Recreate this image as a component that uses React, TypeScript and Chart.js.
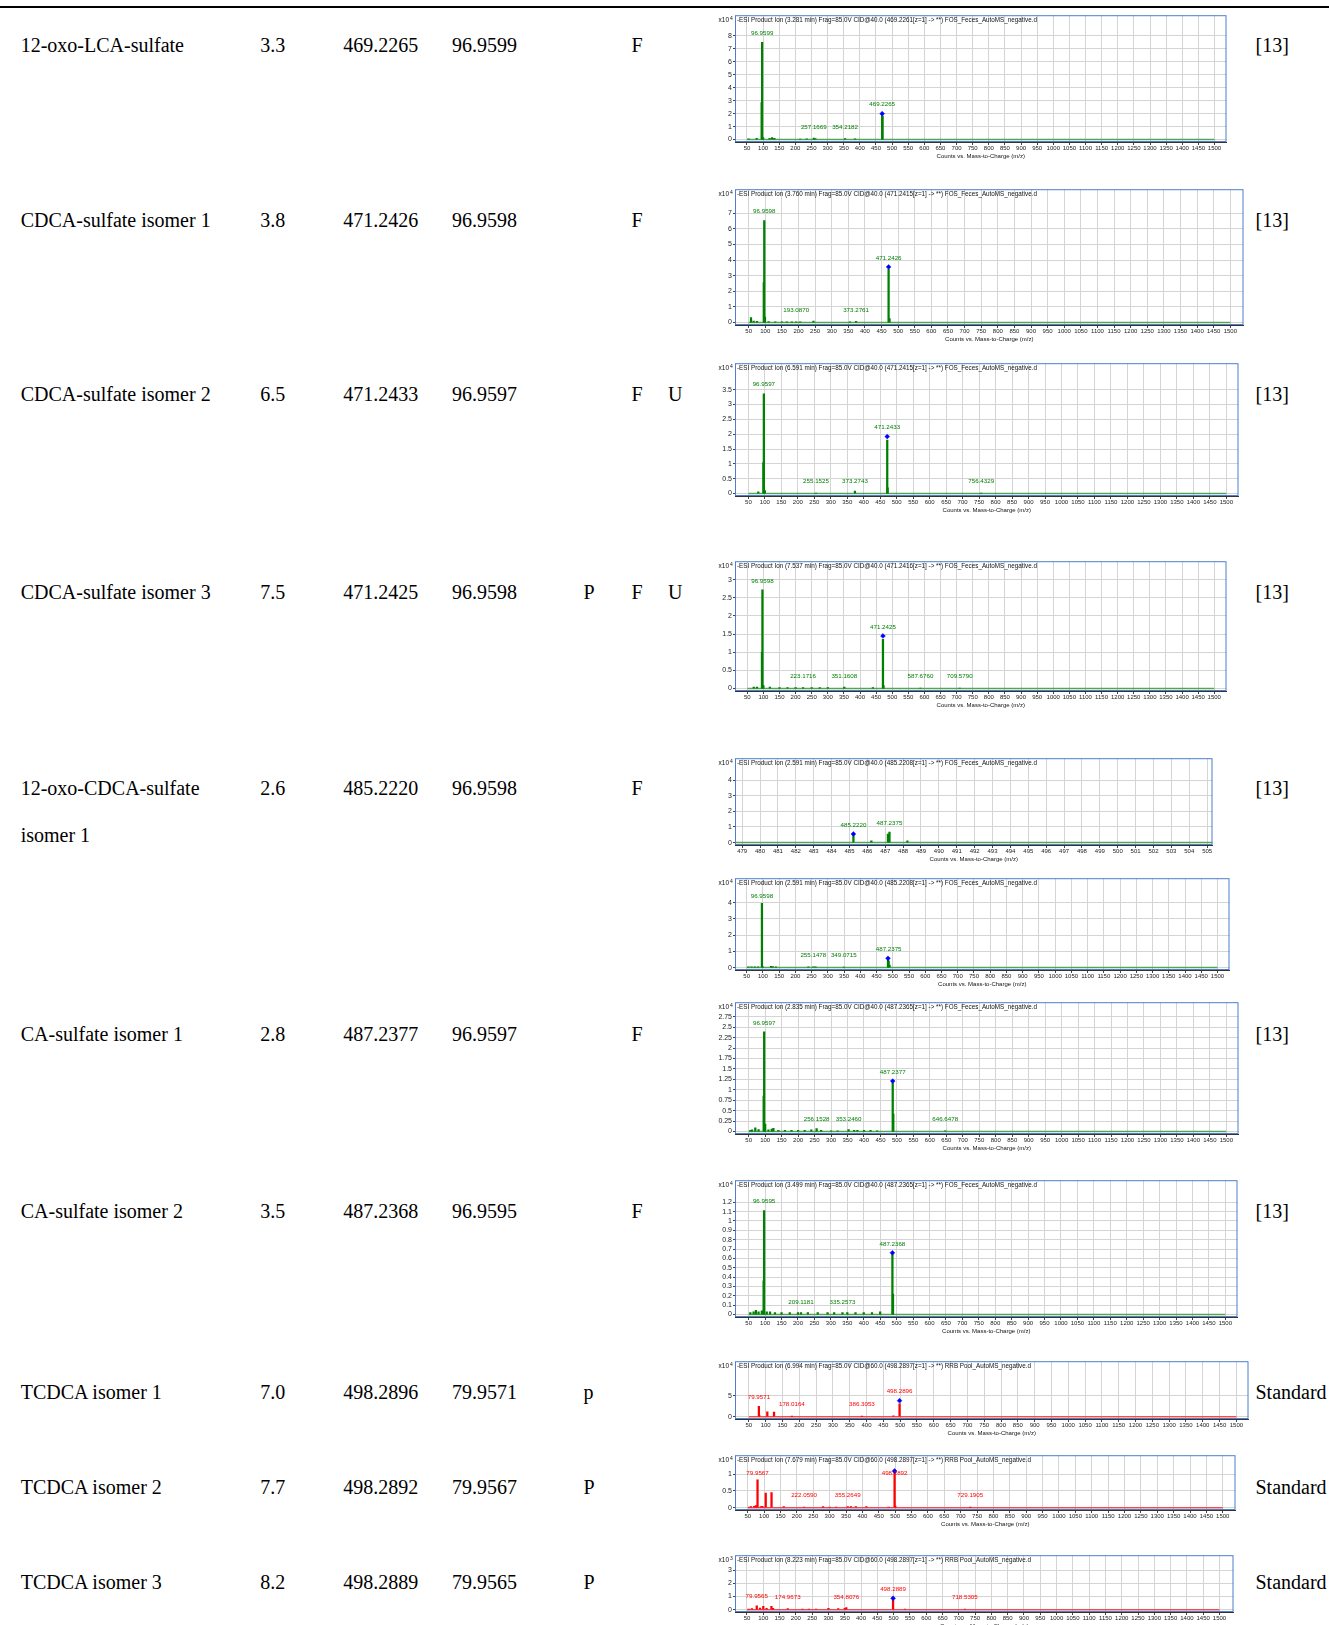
import React, { useEffect, useRef } from 'react';
import { Chart, registerables } from 'chart.js';

Chart.register(...registerables);

// ---------------- table data ----------------
const compoundNames = [
  '12-oxo-LCA-sulfate',
  'CDCA-sulfate isomer 1',
  'CDCA-sulfate isomer 2',
  'CDCA-sulfate isomer 3',
  '12-oxo-CDCA-sulfate',
  'CA-sulfate isomer 1',
  'CA-sulfate isomer 2',
  'TCDCA isomer 1',
  'TCDCA isomer 2',
  'TCDCA isomer 3',
];
const compoundSecondLine = ['', '', '', '', 'isomer 1', '', '', '', '', ''];
const retentionTimes = ['3.3', '3.8', '6.5', '7.5', '2.6', '2.8', '3.5', '7.0', '7.7', '8.2'];
const precursorMz = ['469.2265', '471.2426', '471.2433', '471.2425', '485.2220', '487.2377', '487.2368', '498.2896', '498.2892', '498.2889'];
const fragmentMz = ['96.9599', '96.9598', '96.9597', '96.9598', '96.9598', '96.9597', '96.9595', '79.9571', '79.9567', '79.9565'];
const plasmaCol = ['', '', '', 'P', '', '', '', 'p', 'P', 'P'];
const fecesCol = ['F', 'F', 'F', 'F', 'F', 'F', 'F', '', '', ''];
const urineCol = ['', '', 'U', 'U', '', '', '', '', '', ''];
const references = ['[13]', '[13]', '[13]', '[13]', '[13]', '[13]', '[13]', 'Standard', 'Standard', 'Standard'];

// ---------------- spectra data ----------------
const MZ_TICKS = Array.from({ length: 30 }, (_, i) => 50 + 50 * i);
const ZOOM_TICKS = Array.from({ length: 27 }, (_, i) => 479 + i);
const FULL_RANGE = [50, 1500];

const c1Title = '-ESI Product Ion (3.281 min) Frag=85.0V CID@40.0 (469.2261[z=1] -> **) FOS_Feces_AutoMS_negative.d';
const c1Mz = [55, 80, 95.5, 96.9599, 100, 120, 128, 135, 215, 235, 257.1669, 262, 354.2182, 385, 469.2265, 470.2];
const c1Int = [0.05, 0.1, 2.85, 7.5, 0.15, 0.1, 0.15, 0.1, 0.04, 0.06, 0.12, 0.08, 0.08, 0.05, 1.85, 1.8];
const c1Prec = [469.2261, 2.0];
const c1Labels = ['96.9599', '257.1669', '354.2182', '469.2265'];
const c1YTicks = [0, 1, 2, 3, 4, 5, 6, 7, 8];

const c2Title = '-ESI Product Ion (3.760 min) Frag=85.0V CID@40.0 (471.2415[z=1] -> **) FOS_Feces_AutoMS_negative.d';
const c2Mz = [57, 65, 75, 95.5, 96.9598, 99, 110, 130, 150, 165, 180, 193.087, 205, 245, 355, 373.2761, 471.2426, 474];
const c2Int = [0.32, 0.1, 0.08, 2.55, 6.53, 0.35, 0.06, 0.05, 0.05, 0.05, 0.04, 0.05, 0.05, 0.1, 0.05, 0.08, 3.4, 0.25];
const c2Prec = [471.2415, 3.56];
const c2Labels = ['96.9598', '193.0870', '373.2761', '471.2426'];
const c2YTicks = [0, 1, 2, 3, 4, 5, 6, 7];

const c3Title = '-ESI Product Ion (6.591 min) Frag=85.0V CID@40.0 (471.2415[z=1] -> **) FOS_Feces_AutoMS_negative.d';
const c3Mz = [80, 95.5, 96.9597, 100, 255.1525, 373.2743, 471.2433, 472.5, 756.4329];
const c3Int = [0.06, 1.04, 3.36, 0.1, 0.02, 0.08, 1.8, 0.19, 0.02];
const c3Prec = [471.2415, 1.92];
const c3Labels = ['96.9597', '255.1525', '373.2743', '471.2433', '756.4329'];
const c3YTicks = [0, 0.5, 1, 1.5, 2, 2.5, 3, 3.5];

const c4Title = '-ESI Product Ion (7.537 min) Frag=85.0V CID@40.0 (471.2416[z=1] -> **) FOS_Feces_AutoMS_negative.d';
const c4Mz = [70, 80, 95.5, 96.9598, 100, 120, 150, 175, 200, 223.1716, 250, 275, 300, 351.1608, 440, 471.2425, 473, 587.676, 709.579];
const c4Int = [0.04, 0.04, 1.0, 2.72, 0.08, 0.04, 0.03, 0.03, 0.03, 0.03, 0.03, 0.03, 0.03, 0.04, 0.03, 1.36, 0.08, 0.01, 0.01];
const c4Prec = [471.2416, 1.45];
const c4Labels = ['96.9598', '223.1716', '351.1608', '471.2425', '587.6760', '709.5790'];
const c4YTicks = [0, 0.25, 0.5, 0.75, 1, 1.25, 1.5, 1.75, 2, 2.25, 2.5, 2.75, 3];

const c5Title = '-ESI Product Ion (2.591 min) Frag=85.0V CID@40.0 (485.2208[z=1] -> **) FOS_Feces_AutoMS_negative.d';
const c5Mz = [485.222, 486.225, 487.15, 487.2375, 488.24];
const c5Int = [0.45, 0.12, 0.55, 0.68, 0.12];
const c5Prec = [485.2208, 0.55];
const c5Labels = ['485.2220', '487.2375'];
const c5YTicks = [0, 1, 2, 3, 4];
const c5Range = [478.6, 505.3];

const c6Title = '-ESI Product Ion (2.591 min) Frag=85.0V CID@40.0 (485.2208[z=1] -> **) FOS_Feces_AutoMS_negative.d';
const c6Mz = [55, 65, 75, 85, 96.9598, 100, 125, 130, 140, 240, 255.1478, 262, 349.0715, 485.222, 487.2375, 490];
const c6Int = [0.05, 0.05, 0.05, 0.05, 3.96, 0.05, 0.08, 0.06, 0.04, 0.04, 0.04, 0.04, 0.02, 0.45, 0.4, 0.15];
const c6Prec = [485.2208, 0.57];
const c6Labels = ['96.9598', '255.1478', '349.0715', '487.2375'];
const c6YTicks = [0, 1, 2, 3, 4];

const c7Title = '-ESI Product Ion (2.835 min) Frag=85.0V CID@40.0 (487.2365[z=1] -> **) FOS_Feces_AutoMS_negative.d';
const c7Mz = [55, 60, 70, 80, 95.5, 96.9597, 100, 110, 120, 125, 140, 160, 180, 200, 220, 240, 256.1528, 270, 300, 320, 353.246, 370, 380, 400, 420, 440, 487.2377, 489, 646.6478];
const c7Int = [0.03, 0.04, 0.09, 0.05, 0.85, 2.39, 0.18, 0.04, 0.06, 0.08, 0.03, 0.03, 0.03, 0.03, 0.03, 0.04, 0.07, 0.03, 0.02, 0.02, 0.05, 0.03, 0.03, 0.03, 0.03, 0.02, 1.17, 0.42, 0.02];
const c7Prec = [487.2365, 1.21];
const c7Labels = ['96.9597', '256.1528', '353.2460', '487.2377', '646.6478'];
const c7YTicks = [0, 0.25, 0.5, 0.75, 1, 1.25, 1.5, 1.75, 2, 2.25, 2.5, 2.75];

const c8Title = '-ESI Product Ion (3.499 min) Frag=85.0V CID@40.0 (487.2365[z=1] -> **) FOS_Feces_AutoMS_negative.d';
const c8Mz = [55, 65, 72, 80, 90, 95.5, 96.9595, 105, 115, 130, 150, 175, 200, 209.1181, 230, 260, 290, 310, 335.2573, 350, 375, 400, 425, 450, 487.2368, 489];
const c8Int = [0.02, 0.03, 0.046, 0.03, 0.04, 0.36, 1.11, 0.03, 0.03, 0.02, 0.02, 0.02, 0.02, 0.02, 0.02, 0.02, 0.02, 0.02, 0.02, 0.02, 0.02, 0.02, 0.02, 0.03, 0.64, 0.22];
const c8Prec = [487.2365, 0.66];
const c8Labels = ['96.9595', '209.1181', '335.2573', '487.2368'];
const c8YTicks = [0, 0.1, 0.2, 0.3, 0.4, 0.5, 0.6, 0.7, 0.8, 0.9, 1, 1.1, 1.2];

const c9Title = '-ESI Product Ion (6.994 min) Frag=85.0V CID@60.0 (498.2897[z=1] -> **) RRB Pool_AutoMS_negative.d';
const c9Mz = [79.9571, 81, 105, 125, 178.0164, 386.3053, 480, 498.2896];
const c9Int = [2.5, 0.3, 1.15, 1.1, 0.05, 0.05, 0.2, 3.1];
const c9Prec = [498.2897, 3.85];
const c9Labels = ['79.9571', '178.0164', '386.3053', '498.2896'];
const c9YTicks = [0, 5];

const c10Title = '-ESI Product Ion (7.679 min) Frag=85.0V CID@60.0 (498.2897[z=1] -> **) RRB Pool_AutoMS_negative.d';
const c10Mz = [55, 60, 70, 75, 79.9567, 90, 95, 105, 122.7, 160, 222.059, 280, 300, 320, 355.2649, 365, 380, 412, 480, 498.2892, 500.5, 729.1905];
const c10Int = [0.02, 0.03, 0.04, 0.06, 0.83, 0.03, 0.04, 0.43, 0.45, 0.03, 0.02, 0.03, 0.02, 0.02, 0.03, 0.03, 0.03, 0.03, 0.02, 1.05, 0.05, 0.01];
const c10Prec = [498.2897, 1.09];
const c10Labels = ['79.9567', '222.0590', '355.2649', '498.2892', '729.1905'];
const c10YTicks = [0, 0.5, 1];

const c11Title = '-ESI Product Ion (8.223 min) Frag=85.0V CID@60.0 (498.2897[z=1] -> **) RRB Pool_AutoMS_negative.d';
const c11Mz = [55, 65, 79.9565, 90, 100, 110, 125, 130, 174.9673, 220, 240, 262, 300, 330, 350, 354.8076, 498.2889, 535, 718.5305];
const c11Int = [0.05, 0.08, 0.3, 0.12, 0.25, 0.1, 0.25, 0.1, 0.08, 0.04, 0.04, 0.04, 0.1, 0.08, 0.1, 0.15, 0.75, 0.05, 0.05];
const c11Prec = [498.2897, 0.87];
const c11Labels = ['79.9565', '174.9673', '354.8076', '498.2889', '718.5305'];
const c11YTicks = [0, 1, 2, 3];

// ---------------- styling / layout ----------------
const GREEN = '#008000';
const GREEN_BASE = 'rgba(40,150,40,0.75)';
const RED = '#ff0000';
const RED_BASE = 'rgba(255,40,40,0.8)';
const SANS = "'Liberation Sans', Arial, sans-serif";
const SERIF = "'Liberation Serif', 'Times New Roman', serif";

type Spec = {
  title: string; exponent: string; mz: number[]; intensity: number[]; prec: number[];
  labels: string[]; yTicks: number[]; xTicks: number[]; range: number[];
  color: string; base: string; tol: number;
  box: number[]; // l, t, r, b, xMin, xMax, yMax
};

const SPECS: Spec[] = [
  { title: c1Title, exponent: '4', mz: c1Mz, intensity: c1Int, prec: c1Prec, labels: c1Labels, yTicks: c1YTicks, xTicks: MZ_TICKS, range: FULL_RANGE, color: GREEN, base: GREEN_BASE, tol: 3, box: [735, 12, 1227, 142, 12.8, 1537.2, 9.6] },
  { title: c2Title, exponent: '4', mz: c2Mz, intensity: c2Int, prec: c2Prec, labels: c2Labels, yTicks: c2YTicks, xTicks: MZ_TICKS, range: FULL_RANGE, color: GREEN, base: GREEN_BASE, tol: 3, box: [735, 186, 1244, 325, 8.8, 1539.7, 8.53] },
  { title: c3Title, exponent: '4', mz: c3Mz, intensity: c3Int, prec: c3Prec, labels: c3Labels, yTicks: c3YTicks, xTicks: MZ_TICKS, range: FULL_RANGE, color: GREEN, base: GREEN_BASE, tol: 3, box: [735, 360, 1239, 496, 9.4, 1537, 4.39] },
  { title: c4Title, exponent: '4', mz: c4Mz, intensity: c4Int, prec: c4Prec, labels: c4Labels, yTicks: c4YTicks, xTicks: MZ_TICKS, range: FULL_RANGE, color: GREEN, base: GREEN_BASE, tol: 3, box: [735, 558, 1227, 691, 11.8, 1538, 3.51] },
  { title: c5Title, exponent: '4', mz: c5Mz, intensity: c5Int, prec: c5Prec, labels: c5Labels, yTicks: c5YTicks, xTicks: ZOOM_TICKS, range: c5Range, color: GREEN, base: GREEN_BASE, tol: 0.3, box: [735, 755, 1213, 845, 478.6, 505.3, 5.4] },
  { title: c6Title, exponent: '4', mz: c6Mz, intensity: c6Int, prec: c6Prec, labels: c6Labels, yTicks: c6YTicks, xTicks: MZ_TICKS, range: FULL_RANGE, color: GREEN, base: GREEN_BASE, tol: 3, box: [735, 875, 1230, 970, 14, 1537, 5.5] },
  { title: c7Title, exponent: '4', mz: c7Mz, intensity: c7Int, prec: c7Prec, labels: c7Labels, yTicks: c7YTicks, xTicks: MZ_TICKS, range: FULL_RANGE, color: GREEN, base: GREEN_BASE, tol: 3, box: [735, 999, 1239, 1134, 8.4, 1537, 3.1] },
  { title: c8Title, exponent: '4', mz: c8Mz, intensity: c8Int, prec: c8Prec, labels: c8Labels, yTicks: c8YTicks, xTicks: MZ_TICKS, range: FULL_RANGE, color: GREEN, base: GREEN_BASE, tol: 3, box: [735, 1177, 1238, 1317, 8.4, 1537, 1.436] },
  { title: c9Title, exponent: '4', mz: c9Mz, intensity: c9Int, prec: c9Prec, labels: c9Labels, yTicks: c9YTicks, xTicks: MZ_TICKS, range: FULL_RANGE, color: RED, base: RED_BASE, tol: 3, box: [735, 1358, 1249, 1419, 8.9, 1536, 13.4] },
  { title: c10Title, exponent: '4', mz: c10Mz, intensity: c10Int, prec: c10Prec, labels: c10Labels, yTicks: c10YTicks, xTicks: MZ_TICKS, range: FULL_RANGE, color: RED, base: RED_BASE, tol: 3, box: [735, 1452, 1236, 1510, 11.2, 1538.8, 1.56] },
  { title: c11Title, exponent: '3', mz: c11Mz, intensity: c11Int, prec: c11Prec, labels: c11Labels, yTicks: c11YTicks, xTicks: MZ_TICKS, range: FULL_RANGE, color: RED, base: RED_BASE, tol: 3, box: [735, 1552, 1234, 1612, 13.2, 1543, 4.16] },
];

const ROW_CENTERS = [44.6, 219.8, 394, 592, 788, 1033.6, 1210.9, 1392.3, 1486.6, 1582];
const SECOND_LINE_OFFSET = 46.5;
const COL_X = { name: 20.7, rt: 260.2, prec: 343.2, frag: 452, p: 583.5, f: 631.5, u: 668, ref: 1255.5 };

const PADL = 24;
const PADB = 22;
const PADT = 2;
const PADR = 4;

function Spectrum({ spec }: { spec: Spec }) {
  const ref = useRef<HTMLCanvasElement | null>(null);
  const [l, t, r, b, xMin, xMax, yMax] = spec.box;
  const w = r - l + PADL + PADR;
  const h = b - t + PADT + PADB;

  useEffect(() => {
    if (!ref.current) return;
    const boxH = b - t;
    const yMin = (-2.5 * yMax) / (boxH - 2.5);

    const labelPlugin = {
      id: 'msAnnot',
      afterDraw(chart: any) {
        const { ctx, chartArea: ca, scales } = chart;
        const xs = scales.x;
        const ys = scales.y;
        ctx.save();
        // frame
        ctx.strokeStyle = '#4d7fcc';
        ctx.lineWidth = 1;
        ctx.strokeRect(ca.left + 0.5, ca.top + 0.5, ca.right - ca.left - 1, ca.bottom - ca.top - 1);
        // title
        ctx.fillStyle = '#111';
        ctx.font = `6.3px ${SANS}`;
        ctx.textAlign = 'left';
        ctx.textBaseline = 'middle';
        ctx.fillText(spec.title, ca.left + 2, ca.top + 5);
        // x10^n
        ctx.font = `6.5px ${SANS}`;
        ctx.textAlign = 'right';
        ctx.fillText('x10', ca.left - 6, ca.top + 5.5);
        ctx.font = `5px ${SANS}`;
        ctx.textAlign = 'left';
        ctx.fillText(spec.exponent, ca.left - 5, ca.top + 3.5);
        // axis title
        ctx.font = `6px ${SANS}`;
        ctx.textAlign = 'center';
        ctx.fillText('Counts vs. Mass-to-Charge (m/z)', (ca.left + ca.right) / 2, ca.bottom + 14.5);
        // peak labels
        ctx.fillStyle = spec.color;
        ctx.font = `6.2px ${SANS}`;
        spec.labels.forEach((lab) => {
          const v = parseFloat(lab);
          let hv = 0;
          spec.mz.forEach((m, i) => {
            if (Math.abs(m - v) <= spec.tol) hv = Math.max(hv, spec.intensity[i]);
          });
          if (Math.abs(spec.prec[0] - v) <= spec.tol) hv = Math.max(hv, spec.prec[1]);
          const yy = Math.max(ca.top + 18, Math.min(ys.getPixelForValue(hv) - 9, ys.getPixelForValue(0) - 12.5));
          ctx.fillText(lab, xs.getPixelForValue(v), yy);
        });
        ctx.restore();
      },
    };

    const chart = new Chart(ref.current, {
      type: 'bar',
      data: {
        datasets: [
          {
            type: 'line',
            data: [
              { x: spec.range[0], y: 0 },
              { x: spec.range[1], y: 0 },
            ],
            borderColor: spec.base,
            borderWidth: 1.5,
            pointRadius: 0,
            order: 3,
          } as any,
          {
            type: 'bar',
            data: spec.mz.map((x, i) => ({ x, y: spec.intensity[i] })),
            backgroundColor: spec.color,
            borderWidth: 0,
            barThickness: 1.6,
            order: 2,
          } as any,
          {
            type: 'scatter',
            data: [{ x: spec.prec[0], y: spec.prec[1] }],
            pointStyle: 'rectRot',
            pointRadius: 2.4,
            backgroundColor: '#0000ff',
            borderColor: '#0000ff',
            borderWidth: 0.5,
            order: 1,
          } as any,
        ],
      },
      options: {
        responsive: false,
        maintainAspectRatio: false,
        animation: false,
        devicePixelRatio: 1,
        layout: { padding: { left: 0, top: PADT, right: PADR, bottom: 0 } },
        plugins: { legend: { display: false }, tooltip: { enabled: false }, title: { display: false } },
        scales: {
          x: {
            type: 'linear',
            min: xMin,
            max: xMax,
            offset: false,
            afterBuildTicks: (s: any) => {
              s.ticks = spec.xTicks.map((v) => ({ value: v }));
            },
            afterFit: (s: any) => {
              s.height = PADB;
            },
            grid: { color: '#d4d4d4', lineWidth: 1, drawTicks: true, tickLength: 3, tickColor: '#444', offset: false },
            border: { display: true, color: '#333', width: 1 },
            ticks: {
              autoSkip: false,
              maxRotation: 0,
              minRotation: 0,
              padding: 0,
              color: '#222',
              font: { size: 6, family: SANS },
              callback: (v: any) => String(v),
            },
          },
          y: {
            type: 'linear',
            min: yMin,
            max: yMax,
            afterBuildTicks: (s: any) => {
              s.ticks = spec.yTicks.map((v) => ({ value: v }));
            },
            afterFit: (s: any) => {
              s.width = PADL;
            },
            grid: { color: '#d4d4d4', lineWidth: 1, drawTicks: true, tickLength: 2, tickColor: '#444' },
            border: { display: false },
            ticks: {
              padding: 1,
              color: '#222',
              font: { size: 7, family: SANS },
              callback: (v: any) => String(v),
            },
          },
        },
      } as any,
      plugins: [labelPlugin],
    });
    return () => chart.destroy();
  }, []);

  return (
    <canvas
      ref={ref}
      width={w}
      height={h}
      style={{ position: 'absolute', left: l - PADL, top: t - PADT, width: w, height: h }}
    />
  );
}

function Cell({ x, y, text }: { x: number; y: number; text: string }) {
  if (!text) return null;
  return (
    <div
      style={{
        position: 'absolute',
        left: x,
        top: y - 10,
        fontFamily: SERIF,
        fontSize: 20,
        lineHeight: '20px',
        whiteSpace: 'nowrap',
        color: '#000',
      }}
    >
      {text}
    </div>
  );
}

export default function App() {
  return (
    <div
      style={{
        position: 'absolute',
        left: 0,
        top: 0,
        width: 1329,
        height: 1625,
        background: '#fff',
        overflow: 'hidden',
      }}
    >
      <div style={{ position: 'absolute', left: 0, top: 6, width: 1329, height: 2, background: '#000' }} />
      {compoundNames.map((name, i) => (
        <React.Fragment key={i}>
          <Cell x={COL_X.name} y={ROW_CENTERS[i]} text={name} />
          <Cell x={COL_X.name} y={ROW_CENTERS[i] + SECOND_LINE_OFFSET} text={compoundSecondLine[i]} />
          <Cell x={COL_X.rt} y={ROW_CENTERS[i]} text={retentionTimes[i]} />
          <Cell x={COL_X.prec} y={ROW_CENTERS[i]} text={precursorMz[i]} />
          <Cell x={COL_X.frag} y={ROW_CENTERS[i]} text={fragmentMz[i]} />
          <Cell x={COL_X.p} y={ROW_CENTERS[i]} text={plasmaCol[i]} />
          <Cell x={COL_X.f} y={ROW_CENTERS[i]} text={fecesCol[i]} />
          <Cell x={COL_X.u} y={ROW_CENTERS[i]} text={urineCol[i]} />
          <Cell x={COL_X.ref} y={ROW_CENTERS[i]} text={references[i]} />
        </React.Fragment>
      ))}
      {SPECS.map((s, i) => (
        <Spectrum key={i} spec={s} />
      ))}
    </div>
  );
}
